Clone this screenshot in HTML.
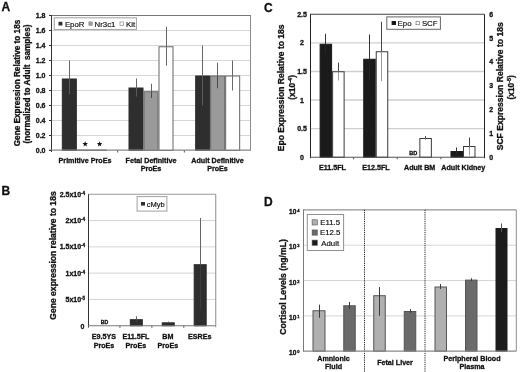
<!DOCTYPE html>
<html><head><meta charset="utf-8"><style>
html,body{margin:0;padding:0;background:#fff;}
svg{display:block;font-family:"Liberation Sans", sans-serif;will-change:transform;}
text{stroke:#111;stroke-width:0.3px;}
.lg{stroke-width:0.18px;}
</style></head><body>
<svg width="520" height="372" viewBox="0 0 520 372">
<rect width="520" height="372" fill="#fff"/>
<text x="1.5" y="10.6" font-size="12" font-weight="bold" text-anchor="start" fill="#111">A</text>
<line x1="51" y1="135.5" x2="251" y2="135.5" stroke="#d6d6d6" stroke-width="1"/>
<line x1="51" y1="120.5" x2="251" y2="120.5" stroke="#d6d6d6" stroke-width="1"/>
<line x1="51" y1="105.5" x2="251" y2="105.5" stroke="#d6d6d6" stroke-width="1"/>
<line x1="51" y1="90.5" x2="251" y2="90.5" stroke="#d6d6d6" stroke-width="1"/>
<line x1="51" y1="75.5" x2="251" y2="75.5" stroke="#d6d6d6" stroke-width="1"/>
<line x1="51" y1="60.5" x2="251" y2="60.5" stroke="#d6d6d6" stroke-width="1"/>
<line x1="51" y1="45.5" x2="251" y2="45.5" stroke="#d6d6d6" stroke-width="1"/>
<line x1="51" y1="30.5" x2="251" y2="30.5" stroke="#d6d6d6" stroke-width="1"/>
<line x1="51" y1="15.5" x2="251" y2="15.5" stroke="#777" stroke-width="1"/>
<line x1="250.5" y1="15.5" x2="250.5" y2="150.5" stroke="#8c8c8c" stroke-width="1"/>
<rect x="62.33" y="79.0" width="14.0" height="71.5" fill="#2e2e2e" stroke="#2a2a2a" stroke-width="1"/>
<line x1="69.5" y1="60.5" x2="69.5" y2="79.0" stroke="#666" stroke-width="1"/>
<line x1="69.5" y1="79.0" x2="69.5" y2="94.25" stroke="#5a5a5a" stroke-width="1"/>
<rect x="77.33" y="150.1" width="14.0" height="0.4" fill="#9a9a9a" stroke="#666" stroke-width="1"/>
<rect x="92.33" y="150.1" width="14.0" height="0.4" fill="#ffffff" stroke="#666" stroke-width="1"/>
<rect x="129.0" y="88.0" width="14.0" height="62.5" fill="#2e2e2e" stroke="#2a2a2a" stroke-width="1"/>
<line x1="136.5" y1="78.5" x2="136.5" y2="88.0" stroke="#666" stroke-width="1"/>
<line x1="136.5" y1="88.0" x2="136.5" y2="96.5" stroke="#5a5a5a" stroke-width="1"/>
<rect x="144.0" y="91.75" width="14.0" height="58.75" fill="#9a9a9a" stroke="#666" stroke-width="1"/>
<line x1="151.5" y1="83.75" x2="151.5" y2="91.75" stroke="#666" stroke-width="1"/>
<line x1="151.5" y1="91.75" x2="151.5" y2="98.0" stroke="#4a4a4a" stroke-width="1"/>
<rect x="159.0" y="46.75" width="14.0" height="103.75" fill="#ffffff" stroke="#666" stroke-width="1"/>
<line x1="166.5" y1="26.75" x2="166.5" y2="46.75" stroke="#666" stroke-width="1"/>
<line x1="166.5" y1="46.75" x2="166.5" y2="65.75" stroke="#6a6a6a" stroke-width="1"/>
<rect x="195.67" y="76.0" width="14.0" height="74.5" fill="#2e2e2e" stroke="#2a2a2a" stroke-width="1"/>
<line x1="202.5" y1="45.5" x2="202.5" y2="76.0" stroke="#666" stroke-width="1"/>
<line x1="202.5" y1="76.0" x2="202.5" y2="105.5" stroke="#5a5a5a" stroke-width="1"/>
<rect x="210.67" y="76.0" width="14.0" height="74.5" fill="#9a9a9a" stroke="#666" stroke-width="1"/>
<line x1="217.5" y1="62.75" x2="217.5" y2="76.0" stroke="#666" stroke-width="1"/>
<line x1="217.5" y1="76.0" x2="217.5" y2="88.25" stroke="#4a4a4a" stroke-width="1"/>
<rect x="225.67" y="76.0" width="14.0" height="74.5" fill="#ffffff" stroke="#666" stroke-width="1"/>
<line x1="232.5" y1="60.5" x2="232.5" y2="76.0" stroke="#666" stroke-width="1"/>
<line x1="232.5" y1="76.0" x2="232.5" y2="90.5" stroke="#6a6a6a" stroke-width="1"/>
<polygon points="85.20,141.20 85.93,143.09 87.96,143.20 86.39,144.49 86.90,146.45 85.20,145.35 83.50,146.45 84.01,144.49 82.44,143.20 84.47,143.09" fill="#111"/>
<polygon points="99.60,141.20 100.33,143.09 102.36,143.20 100.79,144.49 101.30,146.45 99.60,145.35 97.90,146.45 98.41,144.49 96.84,143.20 98.87,143.09" fill="#111"/>
<line x1="51.5" y1="15.5" x2="51.5" y2="152.0" stroke="#333" stroke-width="1"/>
<line x1="49" y1="150.1" x2="251" y2="150.1" stroke="#888" stroke-width="1.3"/>
<line x1="49" y1="150.5" x2="51.5" y2="150.5" stroke="#333" stroke-width="1"/>
<text x="45.5" y="153.0" font-size="7" font-weight="bold" text-anchor="end" fill="#111">0.0</text>
<line x1="49" y1="135.5" x2="51.5" y2="135.5" stroke="#333" stroke-width="1"/>
<text x="45.5" y="138.0" font-size="7" font-weight="bold" text-anchor="end" fill="#111">0.2</text>
<line x1="49" y1="120.5" x2="51.5" y2="120.5" stroke="#333" stroke-width="1"/>
<text x="45.5" y="123.0" font-size="7" font-weight="bold" text-anchor="end" fill="#111">0.4</text>
<line x1="49" y1="105.5" x2="51.5" y2="105.5" stroke="#333" stroke-width="1"/>
<text x="45.5" y="108.0" font-size="7" font-weight="bold" text-anchor="end" fill="#111">0.6</text>
<line x1="49" y1="90.5" x2="51.5" y2="90.5" stroke="#333" stroke-width="1"/>
<text x="45.5" y="93.0" font-size="7" font-weight="bold" text-anchor="end" fill="#111">0.8</text>
<line x1="49" y1="75.5" x2="51.5" y2="75.5" stroke="#333" stroke-width="1"/>
<text x="45.5" y="78.0" font-size="7" font-weight="bold" text-anchor="end" fill="#111">1.0</text>
<line x1="49" y1="60.5" x2="51.5" y2="60.5" stroke="#333" stroke-width="1"/>
<text x="45.5" y="63" font-size="7" font-weight="bold" text-anchor="end" fill="#111">1.2</text>
<line x1="49" y1="45.5" x2="51.5" y2="45.5" stroke="#333" stroke-width="1"/>
<text x="45.5" y="48" font-size="7" font-weight="bold" text-anchor="end" fill="#111">1.4</text>
<line x1="49" y1="30.5" x2="51.5" y2="30.5" stroke="#333" stroke-width="1"/>
<text x="45.5" y="33.0" font-size="7" font-weight="bold" text-anchor="end" fill="#111">1.6</text>
<line x1="49" y1="15.5" x2="51.5" y2="15.5" stroke="#333" stroke-width="1"/>
<text x="45.5" y="18.0" font-size="7" font-weight="bold" text-anchor="end" fill="#111">1.8</text>
<line x1="117.67" y1="150.5" x2="117.67" y2="152.5" stroke="#555" stroke-width="1"/>
<line x1="184.33" y1="150.5" x2="184.33" y2="152.5" stroke="#555" stroke-width="1"/>
<rect x="54.25" y="17.8" width="82.2" height="11.7" fill="#fff" stroke="#a8a8a8" stroke-width="1.1"/>
<rect x="58.5" y="21.8" width="3.9" height="3.7" fill="#2e2e2e" stroke="none" stroke-width="1"/>
<text x="64.9" y="27.3" font-size="7.8" font-weight="normal" text-anchor="start" fill="#111" class="lg">EpoR</text>
<rect x="88.8" y="21.8" width="3.7" height="3.7" fill="#9a9a9a" stroke="#888" stroke-width="0.4"/>
<text x="94.6" y="27.3" font-size="7.8" font-weight="normal" text-anchor="start" fill="#111" class="lg">Nr3c1</text>
<rect x="120" y="22" width="3.4" height="3.4" fill="#fff" stroke="#999" stroke-width="0.8"/>
<text x="126.1" y="27.3" font-size="7.8" font-weight="normal" text-anchor="start" fill="#111" class="lg">Kit</text>
<text x="85" y="162.6" font-size="7.15" font-weight="bold" text-anchor="middle" fill="#111">Primitive ProEs</text>
<text x="151" y="162.6" font-size="7.15" font-weight="bold" text-anchor="middle" fill="#111">Fetal Definitive</text>
<text x="151" y="171.1" font-size="7.15" font-weight="bold" text-anchor="middle" fill="#111">ProEs</text>
<text x="217.5" y="162.6" font-size="7.15" font-weight="bold" text-anchor="middle" fill="#111">Adult Definitive</text>
<text x="217.5" y="171.1" font-size="7.15" font-weight="bold" text-anchor="middle" fill="#111">ProEs</text>
<text x="20" y="83" font-size="8.2" font-weight="bold" text-anchor="middle" fill="#111" transform="rotate(-90 20 83)">Gene Expression Relative to 18s</text>
<text x="30" y="84" font-size="8.2" font-weight="bold" text-anchor="middle" fill="#111" transform="rotate(-90 30 84)" xml:space="preserve">(normalized to Adult  samples)</text>
<text x="1.5" y="195" font-size="12" font-weight="bold" text-anchor="start" fill="#111">B</text>
<line x1="88" y1="299.45" x2="215.75" y2="299.45" stroke="#d6d6d6" stroke-width="1"/>
<line x1="88" y1="273.15" x2="215.75" y2="273.15" stroke="#d6d6d6" stroke-width="1"/>
<line x1="88" y1="246.85" x2="215.75" y2="246.85" stroke="#d6d6d6" stroke-width="1"/>
<line x1="88" y1="220.55" x2="215.75" y2="220.55" stroke="#d6d6d6" stroke-width="1"/>
<line x1="88" y1="194.25" x2="215.75" y2="194.25" stroke="#999" stroke-width="1"/>
<line x1="215.75" y1="194.25" x2="215.75" y2="327.25" stroke="#8c8c8c" stroke-width="1"/>
<rect x="130.31" y="319.68" width="12.0" height="6.07" fill="#2e2e2e" stroke="#2a2a2a" stroke-width="1"/>
<line x1="136.5" y1="316.28" x2="136.5" y2="319.68" stroke="#666" stroke-width="1"/>
<line x1="136.5" y1="319.68" x2="136.5" y2="322.07" stroke="#3c3c3c" stroke-width="1"/>
<rect x="162.24" y="322.83" width="12.0" height="2.92" fill="#2e2e2e" stroke="#2a2a2a" stroke-width="1"/>
<line x1="168.5" y1="321.54" x2="168.5" y2="322.83" stroke="#666" stroke-width="1"/>
<line x1="168.5" y1="322.83" x2="168.5" y2="323.12" stroke="#3c3c3c" stroke-width="1"/>
<rect x="194.18" y="264.71" width="12.0" height="61.04" fill="#2e2e2e" stroke="#2a2a2a" stroke-width="1"/>
<line x1="200.5" y1="217.92" x2="200.5" y2="264.71" stroke="#666" stroke-width="1"/>
<line x1="200.5" y1="264.71" x2="200.5" y2="308.92" stroke="#3c3c3c" stroke-width="1"/>
<text x="104.5" y="323.8" font-size="5.2" font-weight="bold" text-anchor="middle" fill="#111">BD</text>
<line x1="88.5" y1="194.25" x2="88.5" y2="327.55" stroke="#333" stroke-width="1"/>
<line x1="88" y1="325.75" x2="215.75" y2="325.75" stroke="#777" stroke-width="1.2"/>
<text x="85.2" y="196.75" font-size="7" font-weight="bold" text-anchor="end" fill="#111">2.5x10<tspan font-size="4.6" dy="-2.0">-4</tspan></text>
<text x="85.2" y="223.05" font-size="7" font-weight="bold" text-anchor="end" fill="#111">2x10<tspan font-size="4.6" dy="-2.0">-4</tspan></text>
<text x="85.2" y="249.35" font-size="7" font-weight="bold" text-anchor="end" fill="#111">1.5x10<tspan font-size="4.6" dy="-2.0">-4</tspan></text>
<text x="85.2" y="275.65" font-size="7" font-weight="bold" text-anchor="end" fill="#111">1x10<tspan font-size="4.6" dy="-2.0">-4</tspan></text>
<text x="85.2" y="301.95" font-size="7" font-weight="bold" text-anchor="end" fill="#111">5x10<tspan font-size="4.6" dy="-2.0">-5</tspan></text>
<text x="84.3" y="328.95" font-size="7" font-weight="bold" text-anchor="end" fill="#111">0</text>
<line x1="119.94" y1="325.75" x2="119.94" y2="327.75" stroke="#555" stroke-width="1"/>
<line x1="151.88" y1="325.75" x2="151.88" y2="327.75" stroke="#555" stroke-width="1"/>
<line x1="183.81" y1="325.75" x2="183.81" y2="327.75" stroke="#555" stroke-width="1"/>
<rect x="137.1" y="196.6" width="29.8" height="14.5" fill="#fff" stroke="#a0a0a0" stroke-width="1"/>
<rect x="141" y="202" width="4" height="3.6" fill="#2e2e2e" stroke="none" stroke-width="1"/>
<text x="146.7" y="207" font-size="7.55" font-weight="normal" text-anchor="start" fill="#111" class="lg">cMyb</text>
<text x="103.97" y="339" font-size="7.15" font-weight="bold" text-anchor="middle" fill="#111">E9.5YS</text>
<text x="103.97" y="348.3" font-size="7.15" font-weight="bold" text-anchor="middle" fill="#111">ProEs</text>
<text x="135.91" y="339" font-size="7.15" font-weight="bold" text-anchor="middle" fill="#111">E11.5FL</text>
<text x="135.91" y="348.3" font-size="7.15" font-weight="bold" text-anchor="middle" fill="#111">ProEs</text>
<text x="167.84" y="339" font-size="7.15" font-weight="bold" text-anchor="middle" fill="#111">BM</text>
<text x="167.84" y="348.3" font-size="7.15" font-weight="bold" text-anchor="middle" fill="#111">ProEs</text>
<text x="199.78" y="339" font-size="7.15" font-weight="bold" text-anchor="middle" fill="#111">ESREs</text>
<text x="55.6" y="255.5" font-size="8.55" font-weight="bold" text-anchor="middle" fill="#111" transform="rotate(-90 55.6 255.5)">Gene expression relative to 18s</text>
<text x="264" y="12.2" font-size="12" font-weight="bold" text-anchor="start" fill="#111">C</text>
<line x1="310" y1="128.65" x2="484.5" y2="128.65" stroke="#cfcfcf" stroke-width="1.4"/>
<line x1="310" y1="100.05" x2="484.5" y2="100.05" stroke="#cfcfcf" stroke-width="1.4"/>
<line x1="310" y1="71.45" x2="484.5" y2="71.45" stroke="#cfcfcf" stroke-width="1.4"/>
<line x1="310" y1="42.85" x2="484.5" y2="42.85" stroke="#cfcfcf" stroke-width="1.4"/>
<line x1="310" y1="14.25" x2="484.5" y2="14.25" stroke="#444" stroke-width="1"/>
<rect x="320.11" y="44.25" width="11.5" height="113.0" fill="#1a1a1a" stroke="#1a1a1a" stroke-width="1"/>
<line x1="325.5" y1="33.75" x2="325.5" y2="44.25" stroke="#333" stroke-width="1"/>
<line x1="325.5" y1="44.25" x2="325.5" y2="53.5" stroke="#242424" stroke-width="1"/>
<rect x="332.61" y="71.75" width="11.5" height="85.5" fill="#fff" stroke="#3a3a3a" stroke-width="1"/>
<line x1="338.5" y1="62.5" x2="338.5" y2="71.75" stroke="#444" stroke-width="1"/>
<line x1="338.5" y1="71.75" x2="338.5" y2="80.5" stroke="#9a9a9a" stroke-width="1"/>
<rect x="363.74" y="59.25" width="11.5" height="98.0" fill="#1a1a1a" stroke="#1a1a1a" stroke-width="1"/>
<line x1="369.5" y1="34.5" x2="369.5" y2="59.25" stroke="#333" stroke-width="1"/>
<line x1="369.5" y1="59.25" x2="369.5" y2="80" stroke="#242424" stroke-width="1"/>
<rect x="376.24" y="51.75" width="11.5" height="105.5" fill="#fff" stroke="#3a3a3a" stroke-width="1"/>
<line x1="381.5" y1="21.75" x2="381.5" y2="51.75" stroke="#444" stroke-width="1"/>
<line x1="381.5" y1="51.75" x2="381.5" y2="81.25" stroke="#9a9a9a" stroke-width="1"/>
<rect x="419.86" y="138.5" width="11.5" height="18.75" fill="#fff" stroke="#3a3a3a" stroke-width="1"/>
<line x1="425.5" y1="136" x2="425.5" y2="138.5" stroke="#444" stroke-width="1"/>
<line x1="425.5" y1="138.5" x2="425.5" y2="140" stroke="#9a9a9a" stroke-width="1"/>
<rect x="450.99" y="151.5" width="11.5" height="5.75" fill="#1a1a1a" stroke="#1a1a1a" stroke-width="1"/>
<line x1="456.5" y1="147.5" x2="456.5" y2="151.5" stroke="#333" stroke-width="1"/>
<line x1="456.5" y1="151.5" x2="456.5" y2="154" stroke="#242424" stroke-width="1"/>
<rect x="463.49" y="146.5" width="11.5" height="10.75" fill="#fff" stroke="#3a3a3a" stroke-width="1"/>
<line x1="469.5" y1="137.5" x2="469.5" y2="146.5" stroke="#444" stroke-width="1"/>
<line x1="469.5" y1="146.5" x2="469.5" y2="155.5" stroke="#9a9a9a" stroke-width="1"/>
<text x="413.3" y="154.6" font-size="5.6" font-weight="bold" text-anchor="middle" fill="#111">BD</text>
<line x1="310.5" y1="14.25" x2="310.5" y2="158.25" stroke="#222" stroke-width="1"/>
<line x1="484.5" y1="14.25" x2="484.5" y2="158.25" stroke="#222" stroke-width="1"/>
<line x1="310" y1="157.25" x2="484.5" y2="157.25" stroke="#555" stroke-width="1.2"/>
<text x="302" y="16.75" font-size="7" font-weight="bold" text-anchor="middle" fill="#111">2.5</text>
<text x="302" y="45.35" font-size="7" font-weight="bold" text-anchor="middle" fill="#111">2</text>
<text x="302" y="73.95" font-size="7" font-weight="bold" text-anchor="middle" fill="#111">1.5</text>
<text x="302" y="102.55" font-size="7" font-weight="bold" text-anchor="middle" fill="#111">1</text>
<text x="302" y="131.15" font-size="7" font-weight="bold" text-anchor="middle" fill="#111">0.5</text>
<text x="302" y="159.75" font-size="7" font-weight="bold" text-anchor="middle" fill="#111">0</text>
<text x="491.3" y="159.75" font-size="7" font-weight="bold" text-anchor="middle" fill="#111">0</text>
<text x="491.3" y="135.92" font-size="7" font-weight="bold" text-anchor="middle" fill="#111">1</text>
<text x="491.3" y="112.08" font-size="7" font-weight="bold" text-anchor="middle" fill="#111">2</text>
<text x="491.3" y="88.25" font-size="7" font-weight="bold" text-anchor="middle" fill="#111">3</text>
<text x="491.3" y="64.42" font-size="7" font-weight="bold" text-anchor="middle" fill="#111">4</text>
<text x="491.3" y="40.58" font-size="7" font-weight="bold" text-anchor="middle" fill="#111">5</text>
<text x="491.3" y="16.75" font-size="7" font-weight="bold" text-anchor="middle" fill="#111">6</text>
<line x1="353.62" y1="157.25" x2="353.62" y2="159.25" stroke="#555" stroke-width="1"/>
<line x1="397.25" y1="157.25" x2="397.25" y2="159.25" stroke="#555" stroke-width="1"/>
<line x1="440.88" y1="157.25" x2="440.88" y2="159.25" stroke="#555" stroke-width="1"/>
<rect x="386.8" y="16.9" width="53.6" height="12.4" fill="#fff" stroke="#666" stroke-width="1"/>
<rect x="391.6" y="21" width="4.4" height="4" fill="#1a1a1a" stroke="none" stroke-width="1"/>
<text x="397.6" y="26" font-size="7.8" font-weight="normal" text-anchor="start" fill="#111" class="lg">Epo</text>
<rect x="416" y="21.3" width="3.6" height="3.4" fill="#fff" stroke="#777" stroke-width="0.7"/>
<text x="421.9" y="26" font-size="7.8" font-weight="normal" text-anchor="start" fill="#111" class="lg">SCF</text>
<text x="332.41" y="170" font-size="7.15" font-weight="bold" text-anchor="middle" fill="#111">E11.5FL</text>
<text x="376.04" y="170" font-size="7.15" font-weight="bold" text-anchor="middle" fill="#111">E12.5FL</text>
<text x="419.66" y="170" font-size="7.15" font-weight="bold" text-anchor="middle" fill="#111">Adult BM</text>
<text x="463.29" y="170" font-size="7.15" font-weight="bold" text-anchor="middle" fill="#111">Adult Kidney</text>
<text x="284" y="87.8" font-size="8.55" font-weight="bold" text-anchor="middle" fill="#111" transform="rotate(-90 284 87.8)">Epo Expression Relative to 18s</text>
<text x="295" y="87.4" font-size="8.5" font-weight="bold" text-anchor="middle" fill="#111" transform="rotate(-90 295 87.4)">(x10<tspan font-size="5.5" dy="-3">-4</tspan><tspan dy="3">)</tspan></text>
<text x="503" y="86.3" font-size="8.57" font-weight="bold" text-anchor="middle" fill="#111" transform="rotate(-90 503 86.3)">SCF Expression Relative to 18s</text>
<text x="514" y="87.3" font-size="8.4" font-weight="bold" text-anchor="middle" fill="#111" transform="rotate(-90 514 87.3)">(x10<tspan font-size="5.5" dy="-3">-5</tspan><tspan dy="3">)</tspan></text>
<text x="264" y="205.8" font-size="12" font-weight="bold" text-anchor="start" fill="#111">D</text>
<line x1="303" y1="315.88" x2="516.3" y2="315.88" stroke="#d6d6d6" stroke-width="1"/>
<line x1="303" y1="280.55" x2="516.3" y2="280.55" stroke="#d6d6d6" stroke-width="1"/>
<line x1="303" y1="245.22" x2="516.3" y2="245.22" stroke="#d6d6d6" stroke-width="1"/>
<line x1="303" y1="209.9" x2="516.3" y2="209.9" stroke="#777" stroke-width="1"/>
<line x1="516.3" y1="209.9" x2="516.3" y2="351.2" stroke="#8c8c8c" stroke-width="1"/>
<rect x="313.0" y="310.75" width="12.0" height="40.45" fill="#b0b0b0" stroke="#555" stroke-width="1"/>
<line x1="319.5" y1="304.75" x2="319.5" y2="317.75" stroke="#3a3a3a" stroke-width="1"/>
<rect x="343.75" y="305.75" width="11.5" height="45.45" fill="#6a6a6a" stroke="#555" stroke-width="1"/>
<line x1="349.5" y1="302" x2="349.5" y2="309" stroke="#3a3a3a" stroke-width="1"/>
<rect x="373.75" y="295.7" width="11.5" height="55.5" fill="#b0b0b0" stroke="#555" stroke-width="1"/>
<line x1="379.5" y1="287" x2="379.5" y2="315.75" stroke="#3a3a3a" stroke-width="1"/>
<rect x="404.25" y="311.5" width="11.5" height="39.7" fill="#6a6a6a" stroke="#555" stroke-width="1"/>
<line x1="410.5" y1="309" x2="410.5" y2="312.75" stroke="#3a3a3a" stroke-width="1"/>
<rect x="435.0" y="287.0" width="11.5" height="64.2" fill="#b0b0b0" stroke="#555" stroke-width="1"/>
<line x1="440.5" y1="284" x2="440.5" y2="289" stroke="#3a3a3a" stroke-width="1"/>
<rect x="465.5" y="280.1" width="11.5" height="71.1" fill="#6a6a6a" stroke="#555" stroke-width="1"/>
<line x1="471.5" y1="278.3" x2="471.5" y2="281" stroke="#3a3a3a" stroke-width="1"/>
<rect x="496.0" y="228.5" width="11.0" height="122.7" fill="#1c1c1c" stroke="#1c1c1c" stroke-width="1"/>
<line x1="501.5" y1="223.5" x2="501.5" y2="232" stroke="#555" stroke-width="1"/>
<line x1="364.5" y1="209.9" x2="364.5" y2="372" stroke="#222" stroke-width="1" stroke-dasharray="1.2,1"/>
<line x1="425" y1="209.9" x2="425" y2="372" stroke="#222" stroke-width="1" stroke-dasharray="1.2,1"/>
<line x1="303.5" y1="209.9" x2="303.5" y2="351.7" stroke="#7a7a7a" stroke-width="1"/>
<line x1="303" y1="351.2" x2="516.3" y2="351.2" stroke="#888" stroke-width="1.2"/>
<text x="299.4" y="355.2" font-size="6.6" font-weight="bold" text-anchor="end" fill="#111">10<tspan font-size="4" dy="-1.9" dx="0.7">0</tspan></text>
<text x="299.4" y="319.88" font-size="6.6" font-weight="bold" text-anchor="end" fill="#111">10<tspan font-size="4" dy="-1.9" dx="0.7">1</tspan></text>
<text x="299.4" y="284.55" font-size="6.6" font-weight="bold" text-anchor="end" fill="#111">10<tspan font-size="4" dy="-1.9" dx="0.7">2</tspan></text>
<text x="299.4" y="249.22" font-size="6.6" font-weight="bold" text-anchor="end" fill="#111">10<tspan font-size="4" dy="-1.9" dx="0.7">3</tspan></text>
<text x="299.4" y="213.9" font-size="6.6" font-weight="bold" text-anchor="end" fill="#111">10<tspan font-size="4" dy="-1.9" dx="0.7">4</tspan></text>
<rect x="307.3" y="214.5" width="36.3" height="36" fill="#fff" stroke="#909090" stroke-width="1"/>
<rect x="312.1" y="219.8" width="5.2" height="5.2" fill="#b0b0b0" stroke="#555" stroke-width="0.6"/>
<text x="330.2" y="225.3" font-size="7.8" font-weight="normal" text-anchor="middle" fill="#111" class="lg">E11.5</text>
<rect x="312.1" y="229.95" width="5.2" height="5.2" fill="#6a6a6a" stroke="#555" stroke-width="0.6"/>
<text x="330.2" y="235.45" font-size="7.8" font-weight="normal" text-anchor="middle" fill="#111" class="lg">E12.5</text>
<rect x="312.1" y="240.1" width="5.2" height="5.2" fill="#1c1c1c" stroke="#555" stroke-width="0.6"/>
<text x="330.2" y="245.6" font-size="7.8" font-weight="normal" text-anchor="middle" fill="#111" class="lg">Adult</text>
<text x="333.5" y="361" font-size="7.15" font-weight="bold" text-anchor="middle" fill="#111">Amnionic</text>
<text x="333.5" y="369.4" font-size="7.15" font-weight="bold" text-anchor="middle" fill="#111">Fluid</text>
<text x="395" y="364.8" font-size="7.15" font-weight="bold" text-anchor="middle" fill="#111">Fetal Liver</text>
<text x="472" y="361" font-size="7.15" font-weight="bold" text-anchor="middle" fill="#111">Peripheral Blood</text>
<text x="472" y="369.4" font-size="7.15" font-weight="bold" text-anchor="middle" fill="#111">Plasma</text>
<text x="286" y="287" font-size="8.6" font-weight="bold" text-anchor="middle" fill="#111" transform="rotate(-90 286 287)">Cortisol Levels (ng/mL)</text>
</svg>
</body></html>
